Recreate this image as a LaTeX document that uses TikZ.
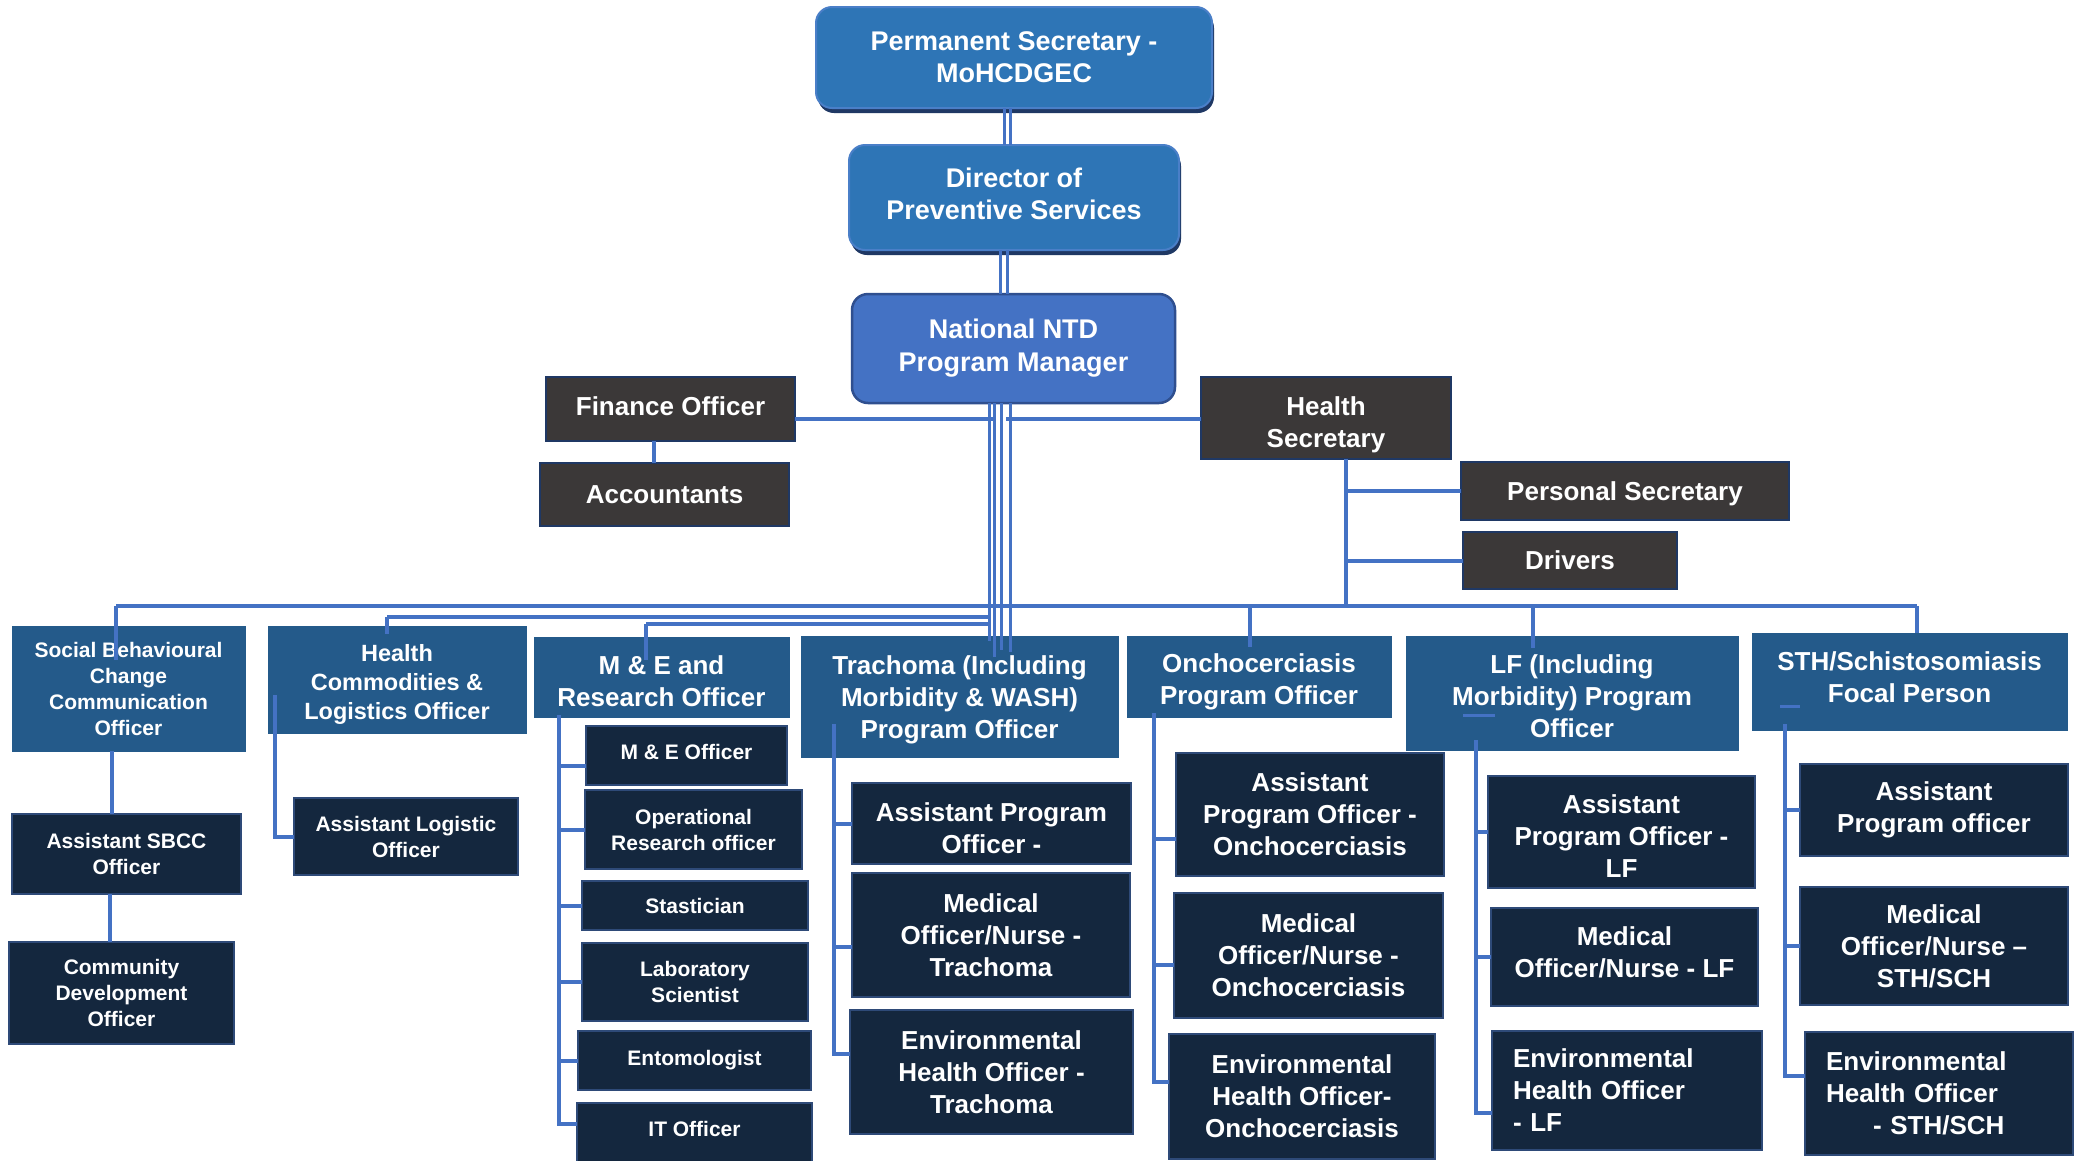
\documentclass[tikz,border=0pt]{standalone}
\usepackage{fontspec}
\setmainfont{Liberation Sans}
\usetikzlibrary{shadows}
\definecolor{lineblue}{HTML}{4472C4}
\definecolor{topblue}{HTML}{2E75B6}
\definecolor{topedge}{HTML}{4A7FC8}
\definecolor{topshadow}{HTML}{1F3864}
\definecolor{ntdblue}{HTML}{4472C4}
\definecolor{ntdedge}{HTML}{2F4F8F}
\definecolor{greyfill}{HTML}{3B3838}
\definecolor{greyedge}{HTML}{1F3864}
\definecolor{midblue}{HTML}{245A8A}
\definecolor{navyfill}{HTML}{14273E}
\definecolor{navyedge}{HTML}{2E4A78}
% [text shift down] {name}{box style}{text style}{x1}{y1}{x2}{y2}{text}
\newcommand\orgbox[9][0]{%
 \node[#3, minimum width={(#7-#5)*1pt}, minimum height={(#8-#6)*1pt}] (#2) at ({(#5+#7)/2},{(#6+#8)/2}) {};
 \node[txt, #4] (#2-t) at ({(#5+#7)/2},{(#6+#8)/2+#1}) {#9};}
\tikzset{
 boxbase/.style={inner sep=0pt, outer sep=0pt},
 txt/.style={inner sep=0pt, text=white, align=center, font=\bfseries\fontsize{26}{32}\selectfont},
 topbox/.style={boxbase, rounded corners=16pt, fill=topblue, draw=topedge, line width=2pt, drop shadow={opacity=1, fill=topshadow, shadow xshift=2pt, shadow yshift=-5pt}},
 topf/.style={font=\bfseries\fontsize{27}{32}\selectfont},
 ntdbox/.style={boxbase, rounded corners=16pt, fill=ntdblue, draw=ntdedge, line width=2.5pt},
 ntdf/.style={font=\bfseries\fontsize{27}{33}\selectfont},
 gbox/.style={boxbase, fill=greyfill, draw=greyedge, line width=2.5pt},
 mbox/.style={boxbase, fill=midblue, draw=midblue, line width=1pt},
 nbox/.style={boxbase, fill=navyfill, draw=navyedge, line width=2.5pt},
 nf/.style={},
 sm/.style={font=\bfseries\fontsize{21}{26}\selectfont},
 hcf/.style={font=\bfseries\fontsize{23.5}{29}\selectfont},
 conn/.style={draw=lineblue, line width=4pt},
 connt/.style={draw=lineblue, line width=3pt}
}
\begin{document}
\begin{tikzpicture}[x=1pt,y=-1pt]
\fill[white] (0,0) rectangle (2080,1160);
\useasboundingbox (0,0) rectangle (2080,1160);

% top chain
\orgbox{ps}{topbox}{topf}{816}{7}{1212}{108}{Permanent Secretary -\\MoHCDGEC}
\orgbox[-4]{dir}{topbox}{topf}{849}{145}{1179}{250}{Director of\\Preventive Services}
\orgbox{ntd}{ntdbox}{ntdf}{852}{294}{1175}{403}{National NTD\\Program Manager}

% staff
\orgbox[-3]{fin}{gbox}{nf}{546}{377}{795}{441}{Finance Officer}
\orgbox{acc}{gbox}{nf}{540}{463}{789}{526}{Accountants}
\orgbox[7]{hs}{gbox}{nf}{1201}{377}{1451}{459}{Health\\Secretary}
\orgbox[3]{pers}{gbox}{nf}{1461}{462}{1789}{520}{Personal Secretary}
\orgbox{drv}{gbox}{nf}{1463}{532}{1677}{589}{Drivers}

% row 2
\orgbox{sbcc}{mbox}{sm}{12}{626}{245}{751}{Social Behavioural\\Change\\Communication\\Officer}
\orgbox[5]{hc}{mbox}{hcf}{268}{626}{526}{733}{Health\\Commodities \&\\Logistics Officer}
\orgbox[4]{me}{mbox}{nf}{534}{637}{789}{717}{M \& E and\\Research Officer}
\orgbox[3]{tra}{mbox}{nf}{801}{636}{1118}{757}{Trachoma (Including\\Morbidity \& WASH)\\Program Officer}
\orgbox[5]{onc}{mbox}{nf}{1127}{636}{1391}{717}{Onchocerciasis\\Program Officer}
\orgbox[3]{lf}{mbox}{nf}{1406}{636}{1738}{750}{LF (Including\\Morbidity) Program\\Officer}
\orgbox[-4]{sth}{mbox}{nf}{1752}{633}{2067}{730}{STH/Schistosomiasis\\Focal Person}

% SBCC / HC subs
\orgbox{asbcc}{nbox}{sm}{12}{814}{241}{894}{Assistant SBCC\\Officer}
\orgbox{cdo}{nbox}{sm}{9}{942}{234}{1044}{Community\\Development\\Officer}
\orgbox{alog}{nbox}{sm}{294}{798}{518}{875}{Assistant Logistic\\Officer}

% M&E subs
\orgbox[-4]{meo}{nbox}{sm}{586}{726}{787}{785}{M \& E Officer}
\orgbox{opr}{nbox}{sm}{585}{790}{802}{869}{Operational\\Research officer}
\orgbox{sta}{nbox}{sm}{582}{881}{808}{930}{Stastician}
\orgbox{lab}{nbox}{sm}{582}{943}{808}{1021}{Laboratory\\Scientist}
\orgbox{ent}{nbox}{sm}{578}{1031}{811}{1090}{Entomologist}
\orgbox[-10]{ito}{nbox}{sm}{577}{1103}{812}{1175}{IT Officer}

% Trachoma subs
\orgbox[5]{tas}{nbox}{nf}{852}{783}{1131}{864}{Assistant Program\\Officer -}
\orgbox{tmed}{nbox}{nf}{852}{873}{1130}{997}{Medical\\Officer/Nurse -\\Trachoma}
\orgbox{tenv}{nbox}{nf}{850}{1010}{1133}{1134}{Environmental\\Health Officer -\\Trachoma}

% Oncho subs
\orgbox{oas}{nbox}{nf}{1176}{753}{1444}{876}{Assistant\\Program Officer -\\Onchocerciasis}
\orgbox{omed}{nbox}{nf}{1174}{893}{1443}{1018}{Medical\\Officer/Nurse -\\Onchocerciasis}
\orgbox{oenv}{nbox}{nf}{1169}{1034}{1435}{1159}{Environmental\\Health Officer-\\Onchocerciasis}

% LF subs
\orgbox[4]{las}{nbox}{nf}{1488}{776}{1755}{888}{Assistant\\Program Officer -\\LF}
\orgbox[-5]{lmed}{nbox}{nf}{1491}{908}{1758}{1006}{Medical\\Officer/Nurse - LF}
\orgbox{lenv}{nbox}{align=left,text width=228pt}{1492}{1031}{1762}{1150}{Environmental\\Health Officer\\- LF}

% STH subs
\orgbox{sas}{nbox}{nf}{1800}{764}{2068}{856}{Assistant\\Program officer}
\orgbox{smed}{nbox}{nf}{1800}{887}{2068}{1005}{Medical\\Officer/Nurse –\\STH/SCH}
\orgbox{senv}{nbox}{align=left,text width=226pt}{1805}{1032}{2073}{1155}{Environmental\\Health Officer\\\hspace*{47pt}- STH/SCH}

% ---------- connectors ----------
\draw[connt] ([xshift=-10pt]ps.south) -- ([xshift=-10pt]dir.north);
\draw[connt] ([xshift=-4pt]ps.south) -- ([xshift=-4pt]dir.north);
\draw[connt] ([xshift=-14pt]dir.south) -- ([xshift=-13.5pt]ntd.north);
\draw[connt] ([xshift=-7pt]dir.south) -- ([xshift=-6.5pt]ntd.north);

\draw[conn] ([yshift=-10pt]fin.east) -- ++(198,0);
\draw[conn] ([yshift=-1pt]hs.west) -- ++(-195,0);
\draw[conn] ([xshift=-16.5pt]fin.south) -- ([xshift=-10.5pt]acc.north);

\coordinate (bus) at (0,606);
\coordinate (bus2) at (0,617);
\coordinate (bus3) at (0,624);

\path ([xshift=-12.5pt]sbcc.north) coordinate (sbT);
\path ([xshift=7.5pt]sth.north) coordinate (stT);
\draw[conn] (sbT |- bus) -- (stT |- bus);
\draw[conn] (sbT |- bus) -- (sbT) -- ++(0,34);
\draw[conn] (stT |- bus) -- (stT);
\path ([xshift=-9pt]onc.north) coordinate (onT);
\draw[conn] (onT |- bus) -- (onT) -- ++(0,11);
\path ([xshift=-39pt]lf.north) coordinate (lfT);
\draw[conn] (lfT |- bus) -- (lfT) -- ++(0,12);

\path ([xshift=20pt]hs.south) coordinate (hsB);
\draw[conn] (hsB) -- (hsB |- bus);
\draw[conn] (hsB |- pers.west) -- (pers.west);
\draw[conn] (hsB |- drv.west) -- (drv.west);

\path ([xshift=-10pt]hc.north) coordinate (hcT);
\draw[conn] (hcT |- bus2) -- ++(604,0);
\draw[conn] (hcT |- bus2) -- (hcT) -- ++(0,8);
\path ([xshift=-15.5pt]me.north) coordinate (meT);
\draw[conn] (meT |- bus3) -- ++(343,0);
\draw[conn] (meT |- bus3) -- (meT) -- ++(0,23);

\draw[connt] ([xshift=-24.5pt]ntd.south) -- ++(0,238);
\draw[connt] ([xshift=-19.5pt]ntd.south) -- ++(0,254);
\draw[connt] ([xshift=-12.5pt]ntd.south) -- ++(0,247);
\draw[connt] ([xshift=-3.5pt]ntd.south) -- ++(0,249);

% SBCC chain and HC
\draw[conn] ([xshift=-16.5pt]sbcc.south) -- ([xshift=-14.5pt]asbcc.north);
\draw[conn] ([xshift=-16.5pt]asbcc.south) -- ([xshift=-11.5pt]cdo.north);
\draw[conn] ([xshift=7pt,yshift=38pt]hc.south west) |- (alog.west);

% M&E
\path ([xshift=25pt,yshift=2pt]me.south west) coordinate (meV);
\draw[conn] (meV) |- ([yshift=15pt]ito.west);
\draw[conn] (meV |- meo.west) ++(0,10) -- ([yshift=-10pt]meo.west);
\foreach \n in {opr,sta,lab,ent} \draw[conn] (meV |- \n.west) -- (\n.west);

% Trachoma
\path ([xshift=33pt,yshift=33pt]tra.south west) coordinate (trV);
\draw[conn] (trV) |- ([yshift=18pt]tenv.west);
\draw[conn] (trV |- tas.west) -- (tas.west);
\draw[conn] (trV |- tmed.west) ++(0,12) -- ([yshift=-12pt]tmed.west);

% Oncho
\path ([xshift=27pt,yshift=4pt]onc.south west) coordinate (onV);
\draw[conn] (onV) |- ([yshift=14.5pt]oenv.west);
\draw[conn] (onV |- oas.west) ++(0,24.5) -- ([yshift=-24.5pt]oas.west);
\draw[conn] (onV |- omed.west) ++(0,9.5) -- ([yshift=-9.5pt]omed.west);

% LF
\path ([xshift=70pt,yshift=10pt]lf.south west) coordinate (lfV);
\draw[conn] (lfV) |- ([yshift=-22.5pt]lenv.west);
\draw[conn] (lfV |- las.west) -- (las.west);
\draw[conn] (lfV |- lmed.west) -- (lmed.west);
\draw[connt] ([xshift=57pt,yshift=35pt]lf.south west) -- ++(32,0);

% STH
\path ([xshift=33pt,yshift=6pt]sth.south west) coordinate (stV);
\draw[conn] (stV) |- ([yshift=17.5pt]senv.west);
\draw[conn] (stV |- sas.west) -- (sas.west);
\draw[conn] (stV |- smed.west) -- (smed.west);
\draw[connt] ([xshift=28pt,yshift=24pt]sth.south west) -- ++(20,0);
\end{tikzpicture}
\end{document}
